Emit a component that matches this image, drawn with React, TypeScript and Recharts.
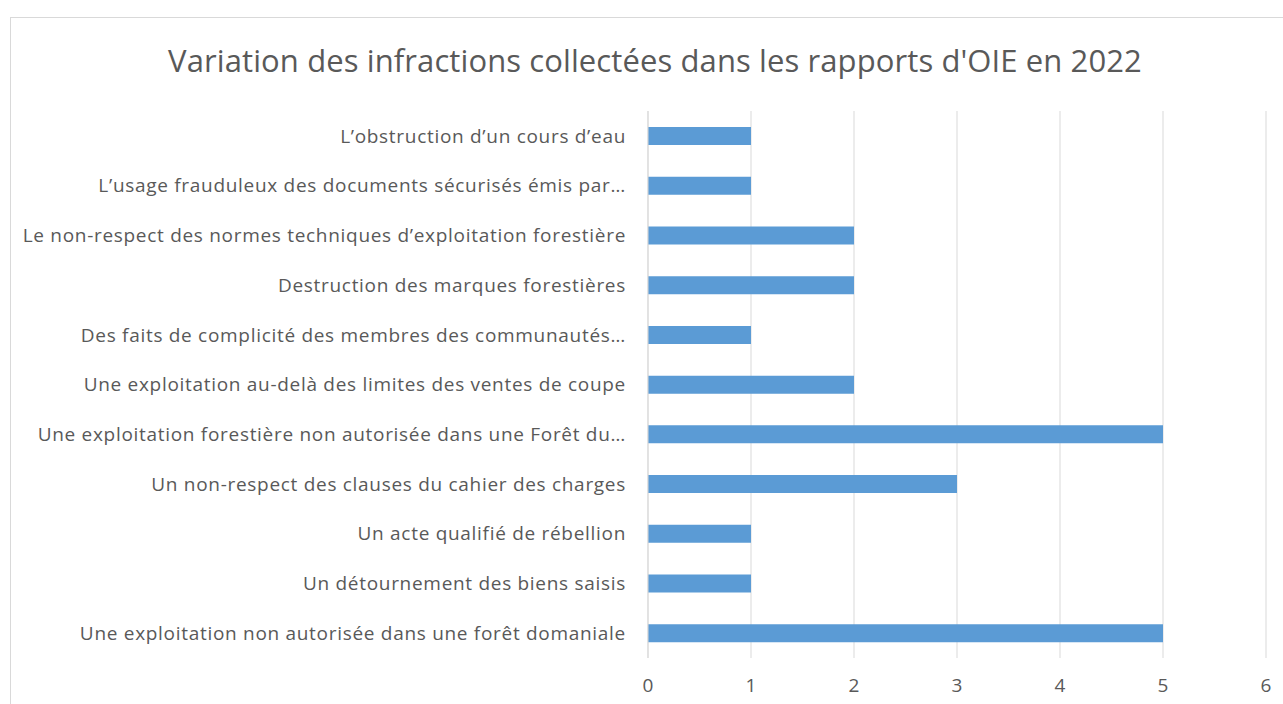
import { Bar, BarChart, CartesianGrid, XAxis, YAxis } from "recharts";

const categories = [
  "L’obstruction d’un cours d’eau",
  "L’usage frauduleux des documents sécurisés émis par…",
  "Le non-respect des normes techniques d’exploitation forestière",
  "Destruction des marques forestières",
  "Des faits de complicité des membres des communautés…",
  "Une exploitation au-delà des limites des ventes de coupe",
  "Une exploitation forestière non autorisée dans une Forêt du…",
  "Un non-respect des clauses du cahier des charges",
  "Un acte qualifié de rébellion",
  "Un détournement des biens saisis",
  "Une exploitation non autorisée dans une forêt domaniale",
];
const counts = [1, 1, 2, 2, 1, 2, 5, 3, 1, 1, 5];
const xTicks = [0, 1, 2, 3, 4, 5, 6];

const data = categories.map((name, i) => ({ name, value: counts[i] }));

const FONT = "'Open Sans', 'Noto Sans', sans-serif";
const GREY = "#595959";

export default function App() {
  return (
    <div style={{ position: "absolute", left: 0, top: 0, width: 1283, height: 704, overflow: "hidden", background: "#fff", fontFamily: FONT }}>
      <div style={{ position: "absolute", left: 10, top: 17, width: 1300, height: 720, border: "1px solid #d9d9d9" }} />
      <div style={{ position: "absolute", left: 0, top: 38, width: 1310, textAlign: "center", fontSize: 31, lineHeight: "44px", color: GREY, whiteSpace: "nowrap", letterSpacing: 0.1 }}>
        Variation des infractions collectées dans les rapports d'OIE en 2022
      </div>
      <div style={{ position: "absolute", left: 0, top: 0 }}>
        <BarChart
          width={1283}
          height={704}
          data={data}
          layout="vertical"
          margin={{ top: 111, right: 17, bottom: 0, left: 0 }}
          barCategoryGap={16}
        >
          <CartesianGrid horizontal={false} stroke="#d9d9d9" />
          <XAxis
            type="number"
            domain={[0, 6]}
            ticks={xTicks}
            height={46}
            axisLine={false}
            tickLine={false}
            tickMargin={15}
            tick={{ fill: GREY, fontSize: 19, fontFamily: FONT }}
          />
          <YAxis
            type="category"
            dataKey="name"
            width={648}
            axisLine={{ stroke: "#d9d9d9" }}
            tickLine={false}
            tickMargin={16}
            interval={0}
            tick={{ fill: GREY, fontSize: 19, fontFamily: FONT, letterSpacing: 0.7 }}
          />
          <Bar dataKey="value" fill="#5b9bd5" barSize={18} isAnimationActive={false} />
        </BarChart>
      </div>
    </div>
  );
}
